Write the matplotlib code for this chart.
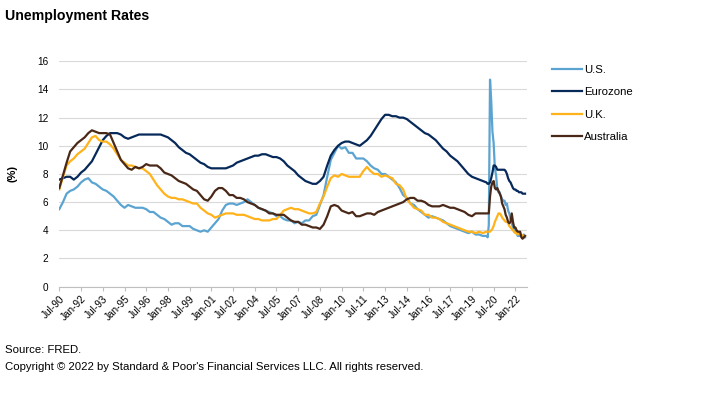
import numpy as np
import pandas as pd
import matplotlib
matplotlib.use("Agg")
import matplotlib.pyplot as plt
import matplotlib.dates as mdates

plt.rcParams['font.family'] = ['Liberation Sans', 'DejaVu Sans']

# quarterly readings Jul-90 .. Oct-19, then monthly Jan-20 .. Sep-22
dates = list(pd.date_range('1990-07-01', '2019-10-01', freq='QS-JAN')) + \
    list(pd.date_range('2020-01-01', '2022-09-01', freq='MS'))

us = [5.5, 6.0,
      6.6, 6.8, 6.9, 7.1, 7.4, 7.6, 7.7, 7.4, 7.3, 7.1, 6.9, 6.8,
      6.6, 6.4, 6.1, 5.8, 5.6, 5.8, 5.7, 5.6, 5.6, 5.6, 5.5, 5.3,
      5.3, 5.1, 4.9, 4.8, 4.6, 4.4, 4.5, 4.5, 4.3, 4.3, 4.3, 4.1,
      4.0, 3.9, 4.0, 3.9, 4.2, 4.5, 4.8, 5.4, 5.8, 5.9, 5.9, 5.8,
      5.9, 6.0, 6.2, 6.0, 5.8, 5.6, 5.5, 5.4, 5.3, 5.2, 5.0, 5.0,
      4.8, 4.7, 4.7, 4.5, 4.6, 4.5, 4.7, 4.7, 5.0, 5.1, 5.8, 6.5,
      7.8, 9.0, 9.5, 10.0, 9.8, 9.9, 9.5, 9.5, 9.1, 9.1, 9.1, 8.9,
      8.6, 8.4, 8.3, 8.0, 8.0, 7.8, 7.6, 7.4, 7.0, 6.5, 6.3, 5.9,
      5.8, 5.5, 5.3, 5.1, 4.9, 5.0, 4.9, 4.8, 4.7, 4.5, 4.3, 4.2,
      4.1, 4.0, 3.9, 3.8, 3.9, 3.7, 3.7, 3.6,
      3.6, 3.5, 4.4, 14.7, 13.2, 11.0, 10.2, 8.4, 7.9, 6.9, 6.7, 6.7,
      6.4, 6.2, 6.1, 6.1, 5.8, 5.9, 5.4, 5.2, 4.8, 4.5, 4.2, 3.9,
      4.0, 3.8, 3.6, 3.6, 3.6, 3.6, 3.5, 3.7, 3.5]

eurozone = [7.6, 7.7,
            7.8, 7.8, 7.6, 7.8, 8.1, 8.3, 8.6, 8.9, 9.4, 9.9, 10.4, 10.7,
            10.9, 10.9, 10.9, 10.8, 10.6, 10.5, 10.6, 10.7, 10.8, 10.8, 10.8, 10.8,
            10.8, 10.8, 10.8, 10.7, 10.6, 10.4, 10.2, 9.9, 9.7, 9.5, 9.4, 9.2,
            9.0, 8.8, 8.7, 8.5, 8.4, 8.4, 8.4, 8.4, 8.4, 8.5, 8.6, 8.8,
            8.9, 9.0, 9.1, 9.2, 9.3, 9.3, 9.4, 9.4, 9.3, 9.2, 9.2, 9.1,
            8.9, 8.6, 8.4, 8.2, 7.9, 7.7, 7.5, 7.4, 7.3, 7.3, 7.5, 7.8,
            8.6, 9.3, 9.7, 10.0, 10.2, 10.3, 10.3, 10.2, 10.1, 10.0, 10.2, 10.4,
            10.7, 11.1, 11.5, 11.9, 12.2, 12.2, 12.1, 12.1, 12.0, 12.0, 11.9, 11.7,
            11.5, 11.3, 11.1, 10.9, 10.8, 10.6, 10.4, 10.1, 9.8, 9.6, 9.3, 9.1,
            8.9, 8.6, 8.3, 8.0, 7.8, 7.7, 7.6, 7.5,
            7.4, 7.3, 7.3, 7.4, 7.7, 8.1, 8.6, 8.6, 8.5, 8.3, 8.3, 8.3,
            8.3, 8.3, 8.3, 8.3, 8.2, 8.0, 7.7, 7.5, 7.4, 7.2, 7.0, 6.9,
            6.9, 6.8, 6.8, 6.7, 6.7, 6.7, 6.6, 6.6, 6.6]

uk = [6.9, 7.8,
      8.6, 8.9, 9.1, 9.4, 9.6, 9.8, 10.2, 10.6, 10.7, 10.4, 10.3, 10.3,
      10.1, 9.8, 9.4, 9.0, 8.8, 8.6, 8.6, 8.5, 8.4, 8.4, 8.2, 8.0,
      7.6, 7.2, 6.9, 6.6, 6.4, 6.3, 6.3, 6.2, 6.2, 6.1, 6.0, 5.9,
      5.9, 5.6, 5.4, 5.2, 5.1, 4.9, 5.0, 5.1, 5.2, 5.2, 5.2, 5.1,
      5.1, 5.1, 5.0, 4.9, 4.8, 4.8, 4.7, 4.7, 4.7, 4.8, 4.8, 5.1,
      5.4, 5.5, 5.6, 5.5, 5.5, 5.4, 5.3, 5.2, 5.2, 5.3, 5.9, 6.4,
      7.1, 7.7, 7.9, 7.8, 8.0, 7.9, 7.8, 7.8, 7.8, 7.8, 8.2, 8.5,
      8.2, 8.0, 8.0, 7.8, 7.9, 7.8, 7.7, 7.3, 7.2, 6.9, 6.2, 5.9,
      5.6, 5.5, 5.4, 5.1, 5.1, 4.9, 4.9, 4.8, 4.6, 4.5, 4.4, 4.3,
      4.2, 4.1, 4.0, 3.9, 3.9, 3.8, 3.9, 3.8,
      3.9, 3.9, 3.9, 3.9, 4.0, 4.1, 4.3, 4.6, 4.8, 5.0, 5.2, 5.2,
      5.1, 4.9, 4.8, 4.7, 4.6, 4.6, 4.5, 4.3, 4.2, 4.1, 4.0, 3.9,
      3.8, 3.8, 3.7, 3.8, 3.7, 3.7, 3.6, 3.6, 3.6]

australia = [7.0, 7.9,
             8.8, 9.6, 9.9, 10.2, 10.4, 10.6, 10.9, 11.1, 11.0, 10.9, 10.9, 10.9,
             10.8, 10.2, 9.6, 9.0, 8.7, 8.4, 8.3, 8.5, 8.4, 8.5, 8.7, 8.6,
             8.6, 8.6, 8.4, 8.1, 8.0, 7.9, 7.7, 7.5, 7.4, 7.3, 7.1, 6.9,
             6.8, 6.5, 6.2, 6.1, 6.4, 6.8, 7.0, 7.0, 6.8, 6.5, 6.5, 6.3,
             6.3, 6.2, 6.0, 5.9, 5.8, 5.6, 5.5, 5.4, 5.2, 5.2, 5.1, 5.1,
             5.1, 4.9, 4.7, 4.6, 4.6, 4.4, 4.4, 4.3, 4.2, 4.2, 4.1, 4.4,
             5.0, 5.7, 5.8, 5.7, 5.4, 5.3, 5.2, 5.3, 5.0, 5.0, 5.1, 5.2,
             5.2, 5.1, 5.3, 5.4, 5.5, 5.6, 5.7, 5.8, 5.9, 6.0, 6.2, 6.3,
             6.3, 6.1, 6.1, 6.0, 5.8, 5.7, 5.7, 5.7, 5.8, 5.7, 5.6, 5.6,
             5.5, 5.4, 5.3, 5.1, 5.0, 5.2, 5.2, 5.2,
             5.2, 5.2, 5.2, 6.4, 7.1, 7.4, 7.5, 7.0, 6.9, 7.0, 6.8, 6.6,
             6.4, 5.9, 5.7, 5.5, 5.1, 4.9, 4.6, 4.5, 4.6, 5.2, 4.6, 4.2,
             4.2, 4.0, 3.9, 3.9, 3.9, 3.5, 3.4, 3.5, 3.6]

names = ['U.S.', 'Eurozone', 'U.K.', 'Australia']
colors = ['#5BA4D2', '#06295A', '#FFB21A', '#4A2818']

fig = plt.figure(figsize=(7.18, 3.97), dpi=100)
ax = fig.add_axes([0.0826, 0.278, 0.652, 0.5676])

for vals, name, c in zip([us, eurozone, uk, australia], names, colors):
    ax.plot(dates, vals, color=c, lw=1.6, label=name)

ax.set_ylim(0, 16)
ax.set_yticks(np.arange(0, 17, 2))
ax.set_xlim(pd.Timestamp('1990-07-01'), pd.Timestamp('2022-11-01'))
ticks = pd.date_range('1990-07-01', '2022-01-01', freq='18MS')
ax.set_xticks(ticks)
ax.xaxis.set_major_formatter(mdates.DateFormatter('%b-%y'))
plt.setp(ax.get_xticklabels(), rotation=45, ha='right', rotation_mode='anchor')
ax.tick_params(axis='x', labelsize=7.2, length=3, color='#BFBFBF', pad=2)
ax.tick_params(axis='y', labelsize=7.2, length=0, pad=8)

ax.grid(axis='y', color='#D9D9D9', lw=0.8)
ax.set_axisbelow(True)
for s in ['top', 'right', 'left']:
    ax.spines[s].set_visible(False)
ax.spines['bottom'].set_color('#BFBFBF')

ax.set_ylabel('(%)', fontsize=8, fontweight='bold', labelpad=14)

ax.legend(loc='upper left', bbox_to_anchor=(1.03, 1.03), frameon=False, fontsize=8.2,
          handlelength=2.7, handletextpad=0.1, labelspacing=1.1)

fig.text(0.007, 0.96, 'Unemployment Rates', fontsize=10.2, fontweight='bold', va='center')
fig.text(0.007, 0.118, 'Source: FRED.', fontsize=8.2, va='center')
fig.text(0.007, 0.075, "Copyright \u00a9 2022 by Standard & Poor's Financial Services LLC. All rights reserved.",
         fontsize=8.2, va='center')

fig.savefig('out.png', dpi=100)
